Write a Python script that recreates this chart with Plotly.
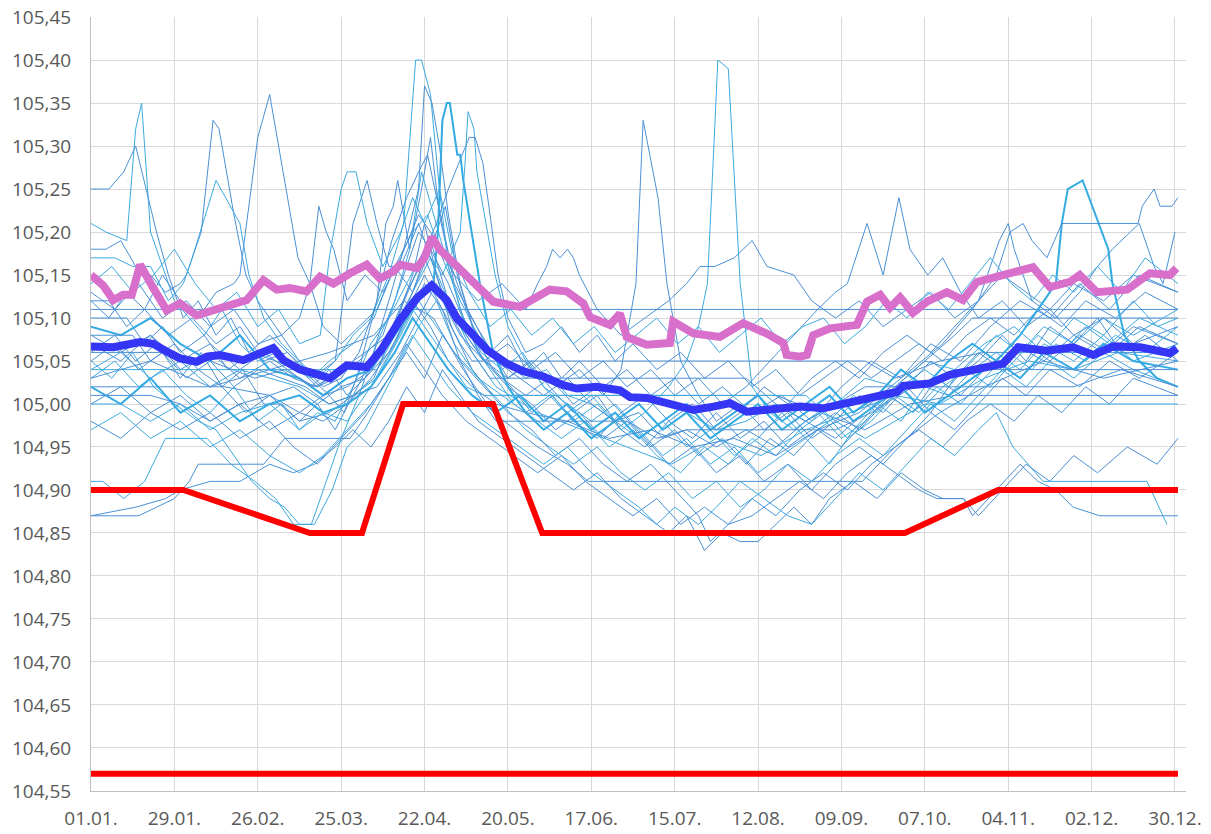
import plotly.graph_objects as go

# ---------------- axis labels ----------------
X_TICK_DAYS = [0, 28, 56, 84, 112, 140, 168, 196, 224, 252, 280, 308, 336, 364]
X_TICK_LABELS = ["01.01.", "29.01.", "26.02.", "25.03.", "22.04.", "20.05.", "17.06.",
                 "15.07.", "12.08.", "09.09.", "07.10.", "04.11.", "02.12.", "30.12."]
Y_TICKS = [104.55, 104.60, 104.65, 104.70, 104.75, 104.80, 104.85, 104.90, 104.95,
           105.00, 105.05, 105.10, 105.15, 105.20, 105.25, 105.30, 105.35, 105.40, 105.45]

# ---------------- thin yearly series (day of year, level) ----------------
T01 = [(0,105.21),(5,105.20),(12,105.19),(15,105.32),(17,105.35),(20,105.20),(24,105.16),(28,105.12),(33,105.10),(38,105.08),(44,105.11),(50,105.07),(56,105.05),(62,105.06),(68,105.04),(74,105.03),(80,105.05),(88,105.07),(95,105.10),(102,105.16),(108,105.20),(113,105.22),(118,105.17),(124,105.12),(130,105.08),(138,105.05),(146,105.03),(153,105.04),(160,105.01),(168,105.00),(176,104.98),(184,105.00),(192,104.97),(200,104.99),(210,104.97),(220,104.98),(230,105.00),(240,104.98),(250,105.00),(260,105.03),(270,105.02),(280,105.05),(290,105.04),(300,105.07),(310,105.09),(320,105.06),(330,105.10),(340,105.08),(350,105.12),(358,105.09),(365,105.10)]
T02 = [(0,105.25),(6,105.25),(11,105.27),(15,105.30),(22,105.20),(26,105.15),(31,105.10),(36,105.12),(42,105.08),(47,105.10),(53,105.06),(60,105.08),(66,105.06),(72,105.04),(78,105.02),(84,105.03),(90,105.06),(96,105.12),(101,105.19),(106,105.24),(110,105.27),(113,105.29),(116,105.24),(121,105.16),(126,105.11),(133,105.07),(140,105.03),(147,105.05),(154,105.02),(162,104.99),(170,105.01),(178,104.97),(186,104.95),(194,104.98),(202,104.96),(210,104.99),(218,104.96),(226,104.98),(234,104.95),(242,104.97),(250,104.99),(258,104.97),(266,105.00),(274,105.02),(282,104.99),(290,105.03),(298,105.05),(306,105.08),(314,105.05),(322,105.09),(330,105.07),(338,105.10),(346,105.06),(354,105.08),(365,105.05)]
T03 = [(0,105.18),(5,105.18),(10,105.19),(15,105.16),(20,105.15),(25,105.13),(30,105.14),(32,105.15),(37,105.20),(41,105.33),(43,105.32),(48,105.22),(52,105.15),(56,105.12),(62,105.09),(68,105.06),(74,105.03),(80,105.01),(85,104.99),(90,105.04),(96,105.12),(99,105.21),(101.5,105.23),(103,105.26),(107,105.18),(111,105.25),(114,105.31),(117,105.22),(122,105.14),(128,105.10),(134,105.06),(140,105.08),(146,105.04),(152,105.06),(158,105.03),(164,105.05),(172,105.02),(180,105.04),(188,105.01),(196,105.03),(204,105.00),(212,105.02),(222,104.99),(232,105.01),(242,104.98),(252,105.02),(262,105.05),(272,105.03),(282,105.07),(292,105.05),(302,105.09),(312,105.12),(322,105.10),(332,105.14),(342,105.11),(352,105.15),(365,105.13)]
T04 = [(0,105.17),(8,105.17),(14,105.16),(20,105.16),(26,105.12),(31,105.14),(34,105.17),(42,105.26),(50,105.21),(53,105.15),(58,105.10),(64,105.07),(70,105.05),(76,105.03),(82,105.05),(88,105.08),(94,105.10),(100,105.15),(105,105.21),(109,105.40),(111,105.40),(114,105.36),(117,105.25),(120,105.16),(125,105.10),(131,105.06),(138,105.04),(145,105.06),(152,105.02),(160,105.00),(168,104.98),(176,105.00),(184,104.97),(192,104.94),(200,104.96),(208,104.93),(216,104.95),(224,104.92),(232,104.94),(240,104.96),(248,104.93),(256,104.97),(264,105.00),(272,104.98),(280,105.02),(288,105.01),(296,105.04),(304,105.06),(312,105.04),(320,105.07),(330,105.05),(340,105.08),(350,105.05),(365,105.07)]
T05 = [(0,105.12),(6,105.10),(12,105.13),(18,105.11),(24,105.15),(30,105.12),(36,105.10),(42,105.13),(48,105.14),(50,105.15),(56,105.31),(60,105.36),(64.5,105.27),(69.5,105.17),(73.5,105.14),(78,105.09),(84,105.07),(90,105.09),(96,105.11),(102,105.16),(108,105.13),(114,105.19),(120,105.12),(126,105.08),(132,105.05),(140,105.02),(148,105.00),(156,104.97),(164,104.99),(172,104.96),(180,104.98),(188,104.95),(196,104.97),(204,104.94),(212,104.96),(220,104.93),(228,104.96),(236,104.94),(244,104.97),(252,104.95),(260,104.98),(268,105.01),(276,104.99),(284,105.03),(292,105.01),(300,105.04),(310,105.07),(320,105.05),(330,105.08),(340,105.06),(350,105.09),(365,105.07)]
T06 = [(0,105.11),(365,105.11)]
T07 = [(0,105.04),(96,105.04),(102,105.08),(108,105.13),(114,105.17),(120,105.12),(128,105.06),(136,105.02),(150,104.99),(165,104.97),(180,104.95),(195,104.93),(210,104.96),(225,104.94),(240,104.97),(255,104.99),(270,105.01),(285,105.00),(300,105.03),(315,105.05),(330,105.04),(345,105.06),(365,105.05)]
T08 = [(0,105.02),(45,105.02),(60,105.01),(70,104.98),(80,104.99),(88,105.01),(95,105.03),(102,105.09),(108,105.15),(112,105.21),(116,105.15),(121,105.09),(128,105.04),(135,105.01),(145,105.01),(190,105.01),(230,105.01),(245,104.99),(260,104.97),(275,105.00),(290,105.01),(330,105.01),(365,105.01)]
T09 = [(0,105.10),(12,105.10),(18,105.07),(24,105.09),(30,105.06),(38,105.08),(46,105.04),(54,105.06),(62,105.05),(70,105.04),(76,105.02),(82,105.03),(90,105.05),(98,105.08),(104,105.14),(110,105.20),(114,105.18),(119,105.23),(123,105.15),(128,105.09),(136,105.05),(144,105.03),(152,105.01),(160,105.03),(168,105.00),(176,104.98),(184,104.99),(192,104.96),(200,104.97),(210,104.95),(220,104.97),(230,104.95),(240,104.98),(250,104.96),(260,104.99),(270,105.02),(280,105.05),(290,105.08),(296,105.10),(365,105.10)]
T10 = [(0,104.91),(4,104.91),(11,104.89),(18,104.91),(25,104.96),(39,104.96),(47,104.93),(55,104.91),(62,104.89),(68,104.86),(75,104.86),(81,104.90),(86,104.95),(92,104.97),(98,105.01),(104,105.05),(110,105.09),(116,105.12),(122,105.07),(130,105.03),(138,105.00),(146,104.97),(154,104.95),(162,104.93),(170,104.95),(178,104.92),(186,104.90),(194,104.92),(202,104.89),(210,104.91),(218,104.88),(226,104.90),(234,104.93),(242,104.91),(250,104.94),(258,104.96),(266,104.94),(274,104.97),(282,105.00),(290,104.98),(298,105.01),(306,105.04),(314,105.02),(322,105.05),(330,105.03),(340,105.06),(350,105.04),(365,105.02)]
T11 = [(0,104.87),(16,104.87),(22,104.88),(28,104.89),(33,104.91),(36,104.93),(58,104.93),(65,104.96),(80,104.96),(87,104.96),(93,104.99),(100,105.03),(106,105.06),(112,105.03),(118,105.08),(124,105.05),(132,105.02),(140,104.99),(148,104.97),(156,104.94),(164,104.96),(172,104.93),(180,104.91),(188,104.93),(196,104.90),(204,104.87),(208,104.84),(214,104.86),(222,104.89),(230,104.87),(238,104.90),(246,104.92),(254,104.90),(262,104.93),(270,104.95),(278,104.97),(286,104.95),(294,104.98),(302,105.00),(310,104.98),(318,105.01),(326,104.99),(334,105.02),(342,105.00),(350,105.03),(365,105.01)]
T12 = [(0,104.87),(15,104.88),(25,104.89),(30,104.90),(40,104.91),(50,104.91),(55,104.92),(60,104.93),(68,104.92),(75,104.93),(82,104.95),(88,104.97),(94,104.95),(100,104.98),(106,105.02),(112,104.99),(118,105.04),(124,105.01),(130,104.98),(138,104.96),(146,104.94),(154,104.92),(162,104.90),(170,104.92),(178,104.89),(186,104.87),(194,104.85),(200,104.87),(206,104.83),(212,104.85),(218,104.84),(224,104.84),(230,104.86),(236,104.88),(242,104.86),(248,104.89),(256,104.91),(264,104.89),(272,104.92),(280,104.90),(286,104.89),(293,104.89),(298,104.87),(306,104.90),(314,104.93),(322,104.91),(330,104.94),(338,104.92),(348,104.95),(358,104.93),(365,104.96)]
T13 = [(0,105.05),(7,105.03),(14,105.06),(21,105.02),(28,105.00),(36,104.98),(42,104.97),(48,104.94),(54,104.91),(60,104.89),(65,104.88),(70,104.86),(74,104.86),(79,104.91),(84,104.96),(90,105.01),(96,105.07),(102,105.12),(107,105.18),(111,105.27),(115,105.22),(119,105.17),(124,105.11),(130,105.06),(136,105.03),(142,105.00),(150,104.98),(158,104.96),(166,104.98),(174,104.95),(182,104.97),(190,104.94),(198,104.92),(206,104.95),(214,104.93),(222,104.96),(230,104.94),(238,104.97),(246,104.99),(254,104.96),(262,104.98),(270,105.01),(278,104.99),(286,105.02),(294,105.04),(302,105.02),(310,105.05),(318,105.08),(326,105.06),(334,105.09),(342,105.07),(352,105.10),(365,105.08)]
T14 = [(0,105.06),(8,105.08),(15,105.05),(22,105.07),(30,105.03),(37,105.06),(44,105.02),(51,105.04),(58,105.00),(64,105.00),(70,104.98),(76,105.00),(82,104.97),(88,105.01),(94,105.05),(100,105.12),(105,105.18),(110,105.25),(112,105.37),(114.5,105.35),(117,105.30),(120,105.22),(124,105.14),(129,105.08),(135,105.04),(141,105.02),(148,104.99),(155,105.01),(162,104.98),(170,104.96),(178,104.99),(186,104.96),(194,104.93),(202,104.95),(210,104.92),(218,104.94),(226,104.91),(234,104.93),(242,104.90),(250,104.93),(258,104.95),(266,104.93),(274,104.96),(282,104.99),(290,104.97),(298,105.00),(306,105.03),(314,105.01),(322,105.04),(332,105.02),(342,105.05),(352,105.03),(365,105.06)]
T15 = [(0,105.09),(10,105.08),(20,105.10),(30,105.07),(40,105.05),(50,105.08),(60,105.04),(70,105.03),(78,105.01),(86,105.03),(94,105.04),(102,105.08),(108,105.11),(112,105.13),(115,105.14),(116.5,105.20),(118,105.33),(119.5,105.35),(120.5,105.35),(123,105.29),(124,105.29),(125,105.26),(130.6,105.14),(135,105.06),(140,105.02),(146,104.99),(152,104.97),(160,104.99),(168,104.96),(176,104.98),(184,105.00),(192,104.97),(200,104.99),(208,104.96),(216,104.98),(224,105.00),(232,104.97),(240,104.99),(248,105.01),(256,104.98),(264,105.00),(272,105.02),(280,104.99),(288,105.01),(296,105.03),(304,105.05),(312,105.03),(320,105.06),(330,105.04),(340,105.07),(350,105.05),(365,105.04)]
T16 = [(0,105.03),(8,105.05),(16,105.02),(24,105.04),(32,105.01),(40,104.99),(48,105.02),(56,104.98),(64,105.00),(70,104.97),(76,104.99),(82,104.98),(88,105.02),(94,105.07),(100,105.10),(106,105.14),(112,105.18),(118,105.15),(124,105.20),(125.6,105.28),(126.6,105.34),(128.6,105.32),(129.6,105.27),(131.6,105.23),(135.7,105.15),(140,105.09),(146,105.05),(152,105.02),(160,104.99),(168,105.01),(176,104.98),(184,104.96),(192,104.98),(200,104.95),(208,104.97),(216,104.94),(224,104.96),(232,104.99),(240,104.96),(248,104.98),(256,105.01),(264,104.99),(272,105.02),(280,105.04),(288,105.02),(296,105.05),(304,105.08),(312,105.06),(320,105.09),(330,105.07),(340,105.10),(350,105.08),(365,105.11)]
T17 = [(0,105.08),(10,105.06),(20,105.08),(30,105.05),(40,105.07),(50,105.04),(58,105.06),(66,105.04),(74,105.02),(80,105.04),(86,105.01),(92,105.03),(98,105.06),(104,105.11),(110,105.16),(116,105.21),(120,105.25),(124.6,105.29),(127,105.31),(129,105.31),(131.6,105.28),(134,105.22),(136.7,105.15),(140,105.10),(146,105.06),(152,105.07),(158,105.09),(164,105.06),(170,105.08),(176,105.05),(182,105.07),(190,105.04),(198,105.06),(206,105.03),(214,105.05),(222,105.02),(230,105.04),(238,105.01),(246,105.03),(254,105.05),(262,105.03),(270,105.05),(278,105.07),(286,105.05),(294,105.08),(302,105.10),(310,105.08),(318,105.11),(326,105.09),(334,105.12),(344,105.10),(354,105.13),(365,105.11)]
T18 = [(0,105.00),(10,105.02),(20,104.99),(30,105.01),(40,104.98),(50,105.00),(60,105.01),(70,104.99),(78,105.01),(86,105.02),(94,105.04),(102,105.09),(108,105.13),(114,105.18),(120,105.14),(126,105.09),(132,105.05),(140,105.03),(148,105.05),(156,105.02),(164,105.04),(172,105.01),(178,105.04),(183,105.14),(185.4,105.33),(190.4,105.24),(193.4,105.14),(198,105.05),(204,105.01),(210,104.98),(218,105.00),(226,104.97),(234,104.99),(242,104.96),(250,104.98),(258,105.01),(266,104.99),(274,105.02),(282,105.05),(290,105.03),(298,105.06),(306,105.04),(314,105.07),(322,105.05),(332,105.08),(342,105.06),(352,105.09),(365,105.07)]
T19 = [(0,105.04),(10,105.06),(20,105.03),(30,105.05),(40,105.02),(50,105.04),(60,105.03),(70,105.02),(80,105.00),(88,105.01),(96,105.03),(104,105.08),(110,105.12),(116,105.09),(122,105.06),(130,105.03),(138,105.01),(146,104.99),(154,105.01),(162,104.98),(170,105.00),(178,104.97),(186,104.99),(194,105.02),(200,105.05),(204,105.09),(207,105.14),(210.5,105.40),(214,105.39),(218,105.14),(222,105.02),(228,104.99),(236,104.97),(244,104.99),(252,104.96),(260,104.98),(268,105.01),(276,104.99),(284,105.02),(292,105.00),(300,105.03),(308,105.06),(316,105.04),(324,105.07),(334,105.05),(344,105.08),(354,105.06),(365,105.09)]
T20 = [(0,105.13),(8,105.11),(16,105.14),(24,105.10),(32,105.12),(40,105.09),(48,105.11),(56,105.07),(64,105.08),(70,105.10),(73.5,105.14),(76.5,105.23),(79,105.20),(81.5,105.18),(86,105.12),(92,105.15),(98,105.13),(104,105.17),(110,105.22),(116,105.19),(122,105.15),(130,105.12),(138,105.14),(146,105.11),(150,105.14),(153,105.16),(155,105.18),(157.5,105.17),(160,105.18),(162,105.17),(164,105.15),(170,105.11),(178,105.08),(186,105.10),(194,105.12),(200,105.14),(204.5,105.16),(209.5,105.16),(216,105.17),(222,105.19),(227,105.16),(236,105.15),(242,105.12),(250,105.10),(258,105.12),(266,105.09),(274,105.11),(282,105.13),(290,105.10),(298,105.12),(306,105.15),(314,105.13),(322,105.11),(330,105.14),(340,105.12),(350,105.15),(365,105.13)]
T21 = [(0,105.07),(10,105.05),(20,105.08),(30,105.04),(40,105.06),(50,105.03),(60,105.05),(68,105.03),(76,105.02),(84,105.04),(92,105.06),(100,105.08),(106,105.13),(112,105.17),(118,105.12),(124,105.08),(132,105.05),(140,105.07),(148,105.04),(156,105.06),(164,105.03),(172,105.05),(180,105.02),(188,105.04),(196,105.01),(204,105.03),(212,105.00),(220,105.02),(228,105.05),(236,105.08),(244,105.11),(250,105.13),(254,105.14),(260.6,105.21),(266,105.15),(271.3,105.24),(275,105.18),(281,105.15),(286,105.17),(292,105.13),(298,105.10),(306,105.12),(314,105.09),(322,105.11),(330,105.08),(340,105.10),(350,105.07),(365,105.09)]
T22 = [(0,105.02),(10,105.00),(20,105.03),(30,104.99),(40,105.01),(50,104.98),(60,105.00),(70,105.01),(78,104.99),(86,105.00),(94,105.02),(102,105.06),(108,105.10),(114,105.07),(120,105.04),(128,105.01),(136,104.99),(144,105.01),(152,104.98),(160,105.00),(168,104.97),(176,104.99),(184,104.96),(192,104.98),(200,105.00),(208,104.97),(216,104.99),(224,105.01),(232,104.98),(240,105.00),(248,105.02),(256,104.99),(264,105.01),(272,105.04),(280,105.02),(288,105.05),(296,105.07),(304,105.05),(312,105.08),(318,105.11),(324,105.14),(326,105.21),(328,105.25),(333,105.26),(341.6,105.18),(343,105.14),(347,105.08),(352,105.05),(358,105.03),(365,105.02)]
T23 = [(0,105.01),(20,105.01),(30,105.00),(40,104.98),(50,105.00),(60,104.97),(70,104.99),(78,104.98),(86,105.00),(94,105.03),(102,105.07),(108,105.12),(114,105.09),(120,105.05),(128,105.02),(136,105.00),(146,104.99),(160,104.98),(174,104.96),(188,104.97),(202,104.95),(216,104.96),(230,104.94),(244,104.97),(258,104.99),(272,105.03),(286,105.07),(296,105.11),(304,105.15),(308.6,105.20),(313,105.21),(316,105.19),(321,105.17),(326,105.21),(351.6,105.21),(353,105.23),(355,105.24),(357,105.25),(359,105.23),(363,105.23),(365,105.24)]
T24 = [(0,105.05),(8,105.07),(16,105.04),(24,105.06),(32,105.03),(40,105.05),(48,105.02),(56,105.04),(64,105.03),(72,105.02),(80,105.00),(88,105.01),(96,105.02),(104,105.06),(110,105.10),(116,105.14),(122,105.10),(130,105.06),(138,105.03),(146,105.01),(154,105.03),(162,105.00),(170,105.02),(178,104.99),(186,105.01),(194,104.98),(202,105.00),(210,104.97),(218,104.99),(226,105.02),(234,105.00),(242,105.03),(250,105.05),(258,105.03),(266,105.06),(274,105.08),(282,105.06),(290,105.09),(298,105.12),(305,105.19),(308,105.21),(310,105.18),(316,105.12),(324,105.10),(332,105.13),(338,105.16),(343,105.18),(349,105.20),(352,105.21),(357,105.16),(360,105.14),(364,105.20)]
T25 = [(0,104.97),(10,104.99),(20,104.96),(30,104.98),(40,104.95),(50,104.97),(60,104.94),(70,104.92),(78,104.94),(86,104.97),(94,105.00),(102,105.04),(108,105.08),(114,105.05),(120,105.02),(128,104.99),(136,104.97),(144,104.95),(152,104.93),(160,104.95),(168,104.92),(176,104.90),(184,104.88),(190,104.86),(196,104.88),(204,104.86),(210,104.88),(218,104.91),(226,104.89),(234,104.87),(242,104.86),(250,104.89),(258,104.92),(266,104.90),(274,104.93),(282,104.96),(290,104.94),(298,104.97),(304,104.99),(309.6,104.95),(319.7,104.91),(354.6,104.91),(361.3,104.86)]
T26 = [(0,104.98),(10,104.96),(20,104.99),(30,104.97),(40,104.99),(50,104.96),(60,104.98),(68,104.95),(76,104.93),(84,104.96),(92,104.99),(100,105.03),(106,105.07),(112,105.04),(118,105.01),(126,104.98),(134,104.96),(142,104.94),(150,104.92),(158,104.94),(166,104.91),(174,104.89),(182,104.87),(190,104.89),(198,104.86),(206,104.88),(214,104.86),(222,104.87),(230,104.89),(238,104.91),(246,104.89),(254,104.92),(262,104.94),(270,104.92),(278,104.90),(284,104.89),(293,104.89),(296,104.87),(304,104.90),(312,104.93),(318,104.91),(324,104.90),(329.8,104.88),(338.8,104.87),(359,104.87),(365,104.87)]
T27 = [(0,105.06),(25,105.06),(40,105.05),(55,105.03),(65,105.04),(75,105.02),(85,105.04),(95,105.05),(105,105.10),(112,105.15),(118,105.11),(124,105.07),(128,105.05),(200,105.05),(260,105.05),(270,105.03),(285,105.05),(300,105.06),(330,105.06),(365,105.06)]
T28 = [(0,105.00),(10,105.00),(20,104.98),(30,105.00),(40,104.97),(50,104.99),(60,105.00),(70,104.97),(78,104.99),(86,104.98),(94,105.02),(102,105.07),(108,105.11),(114,105.08),(120,105.05),(126,105.02),(132,105.01),(210,105.01),(240,105.01),(250,104.98),(260,104.96),(270,104.98),(280,105.00),(300,105.00),(365,105.00)]
T29 = [(0,105.12),(6,105.12),(12,105.09),(18,105.11),(26,105.08),(34,105.10),(42,105.07),(50,105.09),(58,105.05),(66,105.06),(74,105.03),(82,105.05),(88,105.21),(92.7,105.26),(96,105.21),(100,105.16),(104,105.16),(110,105.21),(115,105.16),(120,105.11),(126,105.07),(134,105.03),(160,105.03),(200,105.03),(220,105.03),(230,105.00),(240,104.98),(250,105.00),(260,105.02),(290,105.02),(330,105.02),(346,105.04),(365,105.02)]
T30 = [(0,105.08),(14,105.08),(20,105.05),(28,105.07),(36,105.04),(44,105.02),(52,104.99),(60,105.01),(68,105.02),(76,105.00),(84,105.02),(92,105.03),(100,105.06),(106,105.10),(112,105.14),(118,105.11),(124,105.05),(130,105.01),(136,104.98),(180,104.98),(190,104.96),(200,104.97),(250,104.97),(262,104.99),(276,105.02),(290,105.04),(310,105.04),(350,105.04),(365,105.04)]
T31 = [(0,105.14),(7,105.16),(14,105.13),(21,105.15),(28,105.18),(35,105.14),(42,105.11),(49,105.13),(56,105.09),(63,105.11),(70,105.07),(77,105.08),(80,105.17),(84,105.25),(86,105.27),(89,105.27),(92.7,105.21),(98,105.16),(104,105.20),(108,105.24),(112,105.21),(117,105.25),(121,105.18),(127,105.13),(134,105.09),(141,105.11),(148,105.08),(155,105.10),(162,105.07),(169,105.09),(176,105.06),(183,105.08),(190,105.10),(197,105.07),(204,105.09),(211,105.06),(218,105.08),(225,105.10),(232,105.07),(239,105.09),(246,105.10),(253,105.07),(260,105.09),(267,105.12),(274,105.10),(281,105.13),(288,105.11),(295,105.14),(302,105.17),(309,105.14),(316,105.12),(323,105.15),(330,105.13),(338,105.16),(346,105.13),(354,105.17),(365,105.14)]
T32 = [(0,105.03),(20,105.05),(40,105.02),(60,105.04),(80,105.06),(95,105.08),(105,105.12),(115,105.10),(125,105.04),(135,104.99),(150,104.95),(160,104.93),(167,104.91),(259,104.91),(270,104.95),(285,104.99),(300,105.02),(320,105.05),(340,105.03),(365,105.05)]

# ---------------- summary / limit series ----------------
MEAN = [(0,105.067),(7.5,105.066),(16.5,105.072),(20.9,105.07),(25.4,105.061),(29.9,105.053),(35.5,105.049),(38.9,105.055),(43.3,105.057),(51.1,105.051),(56.8,105.059),(61.2,105.065),(64.6,105.051),(70.2,105.040),(74.6,105.036),(78,105.031),(80.3,105.03),(85.9,105.045),(92.6,105.043),(97.5,105.063),(103.8,105.098),(109.4,105.123),(114.4,105.138),(119.4,105.121),(122.8,105.10),(127.3,105.084),(132.9,105.063),(139.6,105.047),(145.2,105.038),(151.9,105.032),(158.6,105.022),(163.1,105.018),(169.8,105.02),(177.6,105.016),(181,105.008),(186.6,105.007),(194.4,104.999),(202.3,104.993),(209,104.997),(214.6,105.001),(220.2,104.991),(225.8,104.993),(231.4,104.993),(238.1,104.997),(245.9,104.995),(259.3,105.005),(270.5,105.014),(272.8,105.021),(281.7,105.024),(288.4,105.034),(298.5,105.041),(306.3,105.047),(311.4,105.066),(320.9,105.062),(329.8,105.066),(336.6,105.057),(343.3,105.067),(352.3,105.066),(362.3,105.059),(364.6,105.065)]
UPPER = [(0,105.15),(4.1,105.138),(7.5,105.121),(10.8,105.127),(13.7,105.127),(16.5,105.162),(20.9,105.135),(25.4,105.109),(29.9,105.117),(35.5,105.103),(41.1,105.109),(47.8,105.117),(52.3,105.121),(57.9,105.144),(62.4,105.133),(66.8,105.135),(72.4,105.131),(76.9,105.148),(81.4,105.14),(87,105.152),(92.6,105.162),(97,105.146),(101.5,105.154),(103.8,105.162),(109.4,105.158),(112,105.17),(114.5,105.194),(117,105.18),(121.7,105.164),(128.4,105.144),(135.1,105.119),(144,105.113),(149.7,105.123),(154.1,105.133),(159.7,105.131),(165.3,105.117),(167.6,105.101),(174.3,105.092),(177.6,105.105),(179.9,105.078),(186.6,105.069),(194.4,105.071),(195.5,105.096),(202.3,105.082),(211.2,105.078),(219,105.094),(226.9,105.082),(232.5,105.071),(233.6,105.057),(238.1,105.055),(240.4,105.057),(242.5,105.08),(248.2,105.088),(257.2,105.092),(260.6,105.119),(265,105.127),(268.3,105.112),(271.7,105.124),(276,105.106),(280.7,105.119),(287.4,105.13),(292.8,105.121),(297.5,105.142),(307.6,105.15),(316.3,105.159),(322,105.136),(328.7,105.142),(332,105.15),(337.8,105.13),(347.9,105.133),(355.6,105.152),(362.3,105.15),(364.5,105.158)]
LIMIT_HIGH = [(0,104.90),(31,104.90),(73.5,104.85),(91,104.85),(104.8,105.00),(135,105.00),(151.5,104.85),(273.3,104.85),(304.6,104.90),(365,104.90)]
LIMIT_LOW = [(0,104.57),(365,104.57)]

THIN = [T01, T02, T03, T04, T05, T06, T07, T08, T09, T10, T11, T12, T13, T14, T15, T16,
        T17, T18, T19, T20, T21, T22, T23, T24, T25, T26, T27, T28, T29, T30, T31, T32]
THICK_CYAN = {14, 21}  # indices of T15 and T22

COL_A = "#4A90D6"
COL_B = "#3DA9E0"

fig = go.Figure()


def xy(pairs):
    return [p[0] for p in pairs], [p[1] for p in pairs]


for i, s in enumerate(THIN):
    xs, ys = xy(s)
    if i in THICK_CYAN:
        col, w = "#34ABE2", 2
    else:
        col, w = (COL_A if i % 3 else COL_B), 1
    fig.add_trace(go.Scatter(x=xs, y=ys, mode="lines",
                             line=dict(color=col, width=w), hoverinfo="skip"))

for s in (LIMIT_HIGH, LIMIT_LOW):
    xs, ys = xy(s)
    fig.add_trace(go.Scatter(x=xs, y=ys, mode="lines",
                             line=dict(color="#FF0000", width=6), hoverinfo="skip"))

xs, ys = xy(UPPER)
fig.add_trace(go.Scatter(x=xs, y=ys, mode="lines",
                         line=dict(color="#D86FCB", width=8), hoverinfo="skip"))
xs, ys = xy(MEAN)
fig.add_trace(go.Scatter(x=xs, y=ys, mode="lines",
                         line=dict(color="#3535F5", width=8), hoverinfo="skip"))

FONT = dict(family="Open Sans, Liberation Sans, sans-serif", size=19, color="#595959")

fig.update_layout(
    width=1211, height=834,
    margin=dict(l=91, r=25, t=17, b=43, autoexpand=False),
    paper_bgcolor="white", plot_bgcolor="white",
    showlegend=False,
    font=FONT,
)
fig.update_xaxes(
    range=[0, 367.7], automargin=False, ticklabeloverflow="allow",
    tickmode="array", tickvals=X_TICK_DAYS, ticktext=X_TICK_LABELS,
    showgrid=True, gridcolor="#D9D9D9", gridwidth=1,
    showline=True, linecolor="#BFBFBF", linewidth=1,
    zeroline=False, ticks="", ticklabelstandoff=10,
    tickfont=FONT,
)
fig.update_yaxes(
    range=[104.5499, 105.4501], automargin=False, ticklabeloverflow="allow",
    tickmode="array", tickvals=Y_TICKS,
    ticktext=[f"{v:.2f}".replace(".", ",") for v in Y_TICKS],
    showgrid=True, gridcolor="#D9D9D9", gridwidth=1,
    showline=True, linecolor="#BFBFBF", linewidth=1,
    zeroline=False, ticks="", ticklabelstandoff=15,
    tickfont=FONT,
)

# remove the browser's default 8 px page margin so the figure fills the window exactly
fig.write_html("out.html",
               config={"displayModeBar": False, "staticPlot": True},
               post_script="document.body.style.margin='0';document.body.style.overflow='hidden';")
